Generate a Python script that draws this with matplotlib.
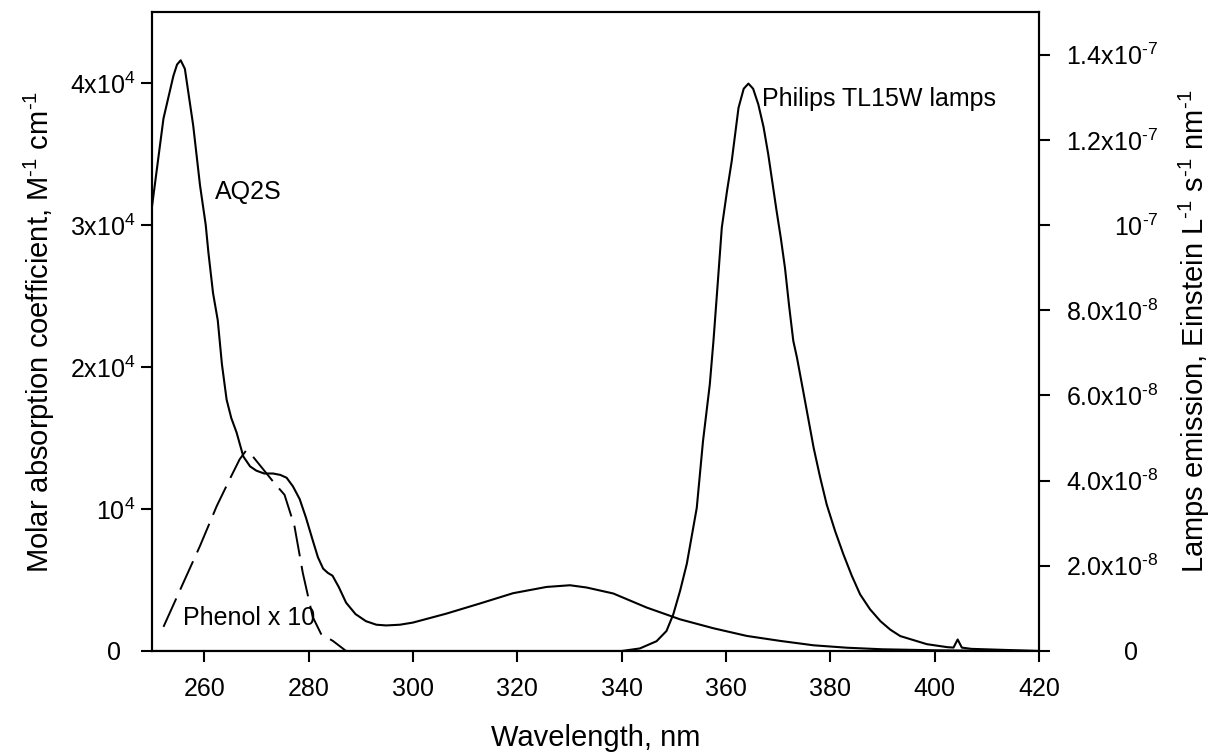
import numpy as np
import matplotlib
matplotlib.use("Agg")
import matplotlib.pyplot as plt

plt.rcParams['font.family'] = ['Liberation Sans', 'DejaVu Sans']
plt.rcParams['mathtext.fontset'] = 'custom'
plt.rcParams['mathtext.rm'] = 'Liberation Sans'
plt.rcParams['mathtext.it'] = 'Liberation Sans:italic'
plt.rcParams['mathtext.bf'] = 'Liberation Sans:bold'

HY = '\u2010'  # plain hyphen for superscripts (mathtext turns '-' into a minus)

# AQ2S molar absorption coefficient (units of 1e4 M-1 cm-1)
aq2s_wl = [250, 252.2, 254.1, 254.8, 255.5, 256.3, 257.9, 259.2, 260.3, 260.8, 261.7,
           262.6, 263.4, 264.3, 265.2, 266.2, 267.5, 268.8, 270.0, 271.5, 273.2, 274.6,
           275.8, 277.0, 278.3, 279.5, 280.8, 281.8, 282.8, 283.7, 284.6, 285.8, 287.2,
           289.0, 291.0, 293.0, 294.9, 297.5, 300, 306.4, 312.8, 319.2, 325.6, 330.1,
           333.3, 338.4, 344.8, 351.2, 357.6, 364.0, 370.4, 376.8, 383.2, 390, 400, 410, 420]
aq2s_eps = [3.13, 3.75, 4.05, 4.13, 4.16, 4.10, 3.70, 3.28, 3.00, 2.81, 2.52,
            2.33, 2.02, 1.77, 1.64, 1.54, 1.37, 1.30, 1.27, 1.25, 1.25, 1.24,
            1.22, 1.16, 1.07, 0.94, 0.78, 0.66, 0.58, 0.55, 0.53, 0.45, 0.34,
            0.26, 0.21, 0.185, 0.18, 0.185, 0.20, 0.263, 0.334, 0.407, 0.451, 0.463,
            0.447, 0.405, 0.306, 0.223, 0.160, 0.106, 0.071, 0.040, 0.023, 0.012, 0.005, 0.002, 0.0]

# phenol x 10 (units of 1e4 M-1 cm-1)
phenol_wl = [252.2, 256.0, 259.2, 262.4, 264.9, 266.8, 268.0, 269.1, 271.3,
             273.5, 275.4, 277.3, 278.9, 280.8, 282.4, 284.7, 287.2, 300, 420]
phenol_eps = [0.17, 0.48, 0.74, 1.02, 1.21, 1.35, 1.41, 1.38, 1.28,
              1.18, 1.10, 0.88, 0.55, 0.24, 0.12, 0.07, 0.0, 0.0, 0.0]

# Philips TL15W lamp emission (units of 1e-8 Einstein L-1 s-1 nm-1)
lamp_wl = [250, 340, 343.5, 346.7, 348.6, 349.9, 351.2, 352.5, 354.4, 355.6,
           356.9, 357.6, 358.4, 359.2, 360.2, 361.1, 362.4, 363.4, 364.3, 365.2, 366.2,
           367.2, 368.1, 369.7, 370.5, 371.3, 372.1, 372.9, 373.6, 374.8, 376.8, 378.0,
           379.3, 380.9, 382.5, 384.1, 385.7, 387.6, 389.6, 391.5, 393.4, 398.5,
           402.4, 403.6, 404.4, 405.2, 407, 420]
lamp_em = [0, 0, 0.06, 0.23, 0.47, 0.86, 1.41, 2.05, 3.36, 4.93,
           6.26, 7.28, 8.6, 9.94, 10.8, 11.5, 12.75, 13.2, 13.32, 13.2, 12.83,
           12.3, 11.66, 10.33, 9.7, 9.0, 8.1, 7.28, 6.89, 6.10, 4.77, 4.1,
           3.44, 2.82, 2.27, 1.77, 1.33, 0.98, 0.70, 0.50, 0.35, 0.16,
           0.09, 0.08, 0.27, 0.08, 0.05, 0.0]

x_ticks = [260, 280, 300, 320, 340, 360, 380, 400, 420]
left_ticks = [0, 1e4, 2e4, 3e4, 4e4]
left_labels = ['0  ', r'10$^{4}$', r'2x10$^{4}$', r'3x10$^{4}$', r'4x10$^{4}$']
right_ticks = [0, 2e-8, 4e-8, 6e-8, 8e-8, 1e-7, 1.2e-7, 1.4e-7]
right_labels = ['0   ', '2.0x10$^{%s8}$' % HY, '4.0x10$^{%s8}$' % HY, '6.0x10$^{%s8}$' % HY,
                '8.0x10$^{%s8}$' % HY, '10$^{%s7}$' % HY, '1.2x10$^{%s7}$' % HY,
                '1.4x10$^{%s7}$' % HY]

fig = plt.figure(figsize=(12.14, 7.56), dpi=100)
ax = fig.add_axes([0.1252, 0.1389, 0.7307, 0.8452])
ax2 = ax.twinx()

ax.plot(aq2s_wl, np.array(aq2s_eps) * 1e4, color='black', lw=1.5)
ax.plot(phenol_wl, np.array(phenol_eps) * 1e4, color='black', lw=1.4, dashes=(16, 5))
ax2.plot(lamp_wl, np.array(lamp_em) * 1e-8, color='black', lw=1.5)

ax.set_xlim(250, 420)
ax.set_ylim(0, 4.5e4)
ax2.set_ylim(0, 1.5e-7)

ax.set_xticks(x_ticks)
ax.set_yticks(left_ticks)
ax.set_yticklabels(left_labels)
ax2.set_yticks(right_ticks)
ax2.set_yticklabels(right_labels, ha='right')

for a in (ax, ax2):
    for s in a.spines.values():
        s.set_linewidth(1.5)
ax.tick_params(axis='x', direction='out', length=8, width=1.5, labelsize=18, pad=11)
ax.tick_params(axis='y', direction='out', length=8, width=1.5, labelsize=18, pad=4)
ax2.tick_params(axis='y', direction='out', length=8, width=1.5, labelsize=18, pad=78)

ax.set_xlabel('Wavelength, nm', fontsize=21, labelpad=16)
ax.set_ylabel('Molar absorption coefficient, M$^{%s1}$ cm$^{%s1}$' % (HY, HY),
              fontsize=21, labelpad=9)
ax2.set_ylabel('Lamps emission, Einstein L$^{%s1}$ s$^{%s1}$ nm$^{%s1}$' % (HY, HY, HY),
               fontsize=21, rotation=90, labelpad=13)

ax.text(262.1, 3.23e4, 'AQ2S', fontsize=18, va='center', ha='left')
ax.text(366.9, 3.89e4, 'Philips TL15W lamps', fontsize=18, va='center', ha='left')
ax.text(255.9, 0.233e4, 'Phenol x 10', fontsize=18, va='center', ha='left')

fig.savefig('out.png', dpi=100)
